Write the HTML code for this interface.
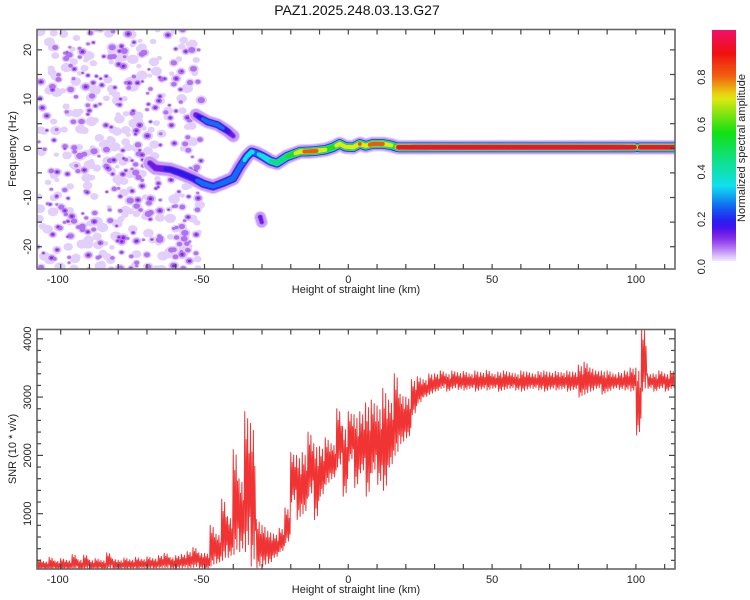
<!DOCTYPE html>
<html><head><meta charset="utf-8">
<style>
html,body{margin:0;padding:0;background:#fff;}
svg{display:block;font-family:"Liberation Sans",sans-serif;}
</style></head>
<body>
<svg id="chart" width="750" height="600" viewBox="0 0 750 600" xmlns="http://www.w3.org/2000/svg">
<defs>
<clipPath id="clipTop"><rect x="37" y="29.5" width="638" height="239.5"/></clipPath>
<clipPath id="clipBot"><rect x="37" y="329.5" width="638" height="239.5"/></clipPath>
<linearGradient id="cbGrad" x1="0" y1="1" x2="0" y2="0"></linearGradient>
</defs>
<text x="357" y="15" font-size="14" text-anchor="middle" fill="#111">PAZ1.2025.248.03.13.G27</text>
<g id="specMarks" clip-path="url(#clipTop)"></g>
<g id="snrMarks" clip-path="url(#clipBot)"></g>
<g id="axes"></g>
<rect x="712" y="30" width="24" height="231" fill="url(#cbGrad)"/>
<g id="cbAxis"></g>
<text x="0" y="0" font-size="11" text-anchor="middle" fill="#222" transform="translate(745,148) rotate(-90)">Normalized spectral amplitude</text>
<text x="356" y="293" font-size="11" text-anchor="middle" fill="#222">Height of straight line (km)</text>
<text x="356" y="593" font-size="11" text-anchor="middle" fill="#222">Height of straight line (km)</text>
<text x="0" y="0" font-size="11" text-anchor="middle" fill="#222" transform="translate(16,149) rotate(-90)">Frequency (Hz)</text>
<text x="0" y="0" font-size="11" text-anchor="middle" fill="#222" transform="translate(16,449) rotate(-90)">SNR (10 * v/v)</text>
</svg>
<script>
// ---- data ----
const xTickLabels = [-100, -50, 0, 50, 100];
const freqTickLabels = [-20, -10, 0, 10, 20];
const snrTickLabels = [1000, 2000, 3000, 4000];
const cbTickLabels = [0.0, 0.2, 0.4, 0.6, 0.8];
// main ridge of spectrogram
const trackKm  = [-69,-67,-62,-58.5,-54,-50.4,-47,-43.5,-40,-37.6,-35.3,-33.6,-31.9,-29.6,-27,-24.8,-21.4,-16.8,-12.2,-8,-5.3,-3,-1,1.7,4,6,8.6,12,15,16.5,17.5,30,60,90,99.5,100.5,101.5,113.6];
const trackHz  = [-3,-4,-4.3,-5,-6.1,-7.2,-7.8,-7,-6.1,-3.7,-1.7,-0.7,-1.0,-1.7,-2.6,-3,-1.7,-0.7,-0.6,-0.3,0.2,0.9,0.3,0.2,0.9,0.5,0.9,0.9,0.6,0.3,0.2,0.2,0.2,0.2,0.2,0.2,0.2,0.2];
const trackAmp = [0.12,0.15,0.18,0.2,0.2,0.3,0.25,0.3,0.32,0.3,0.35,0.35,0.3,0.4,0.45,0.5,0.55,0.78,0.85,0.7,0.65,0.75,0.7,0.75,0.8,0.75,0.85,0.8,0.7,0.6,0.95,0.97,0.97,0.97,0.95,0.35,0.95,0.95];
// upper branch
const branchKm  = [-53,-49,-45.5,-42,-40];
const branchHz  = [6.8,5.4,4.8,3.5,2.5];
const branchAmp = [0.15,0.3,0.3,0.2,0.12];
// isolated blob
const isoKm  = [-30.6,-30.1];
const isoHz  = [-14.0,-15.0];
const isoAmp = [0.15,0.13];
// SNR: 2-km bins starting at -108 km, upper / lower envelope of noisy trace
const snrStartKm = -108;
const snrHi = [220,180,250,190,230,200,300,210,290,200,230,200,330,220,200,240,210,250,220,260,230,280,320,250,280,300,350,420,330,320,
800,650,1250,950,2100,1600,2750,2550,900,800,700,650,750,1100,2050,2000,2050,2400,2200,2150,2300,2200,2800,2500,2750,2700,2750,2900,2950,2850,
3150,2950,3400,3050,3000,3300,3350,3300,3400,3400,3450,3400,3450,3420,3440,3400,3450,3420,3460,3400,3430,3450,3420,3400,3450,3430,3400,3440,3450,3420,
3440,3420,3450,3430,
3550,3600,3500,3450,3450,3450,3400,3420,3450,3500,3500,4200,3400,3400,3450,3400,3450,3400];
const snrLo = [30,40,30,40,30,40,40,30,50,40,40,30,50,40,50,40,50,40,60,50,50,60,60,50,60,70,60,80,50,40,
100,150,200,250,300,350,350,100,60,100,150,250,350,500,1200,900,1000,1300,900,1300,1500,1600,1800,1300,1900,1450,1700,1300,1700,1500,
1400,1800,2000,2200,2300,2700,2900,3000,3050,3100,3150,3100,3150,3130,3120,3150,3100,3140,3120,3150,3100,3130,3150,3120,3100,3140,3150,3120,3100,3140,
3120,3140,3100,3130,
3000,3050,3100,3150,3050,3100,3150,3130,3120,3100,2350,3100,3150,3100,3150,3100,3150,3100];

// ---- scales ----
const NS = 'http://www.w3.org/2000/svg';
function xS(km){ return 348.3 + km*2.876; }
function fS(hz){ return 148.3 - hz*4.92; }
function yS(v){ return 513.7 - (v-1000)*0.0583; }
function cbS(a){ return 266.7 - a*237; }

const cmStops = [[0,'#ffffff'],[0.015,'#efe3fe'],[0.04,'#d2b2fa'],[0.08,'#a45cf0'],[0.12,'#7a1ee6'],[0.17,'#3010f0'],[0.24,'#1060f0'],[0.33,'#10e0f0'],[0.45,'#10e080'],[0.56,'#10e010'],[0.71,'#e8e810'],[0.8,'#f06010'],[0.9,'#f01010'],[1.0,'#f0106e']];
function hex(c){ return [parseInt(c.substr(1,2),16),parseInt(c.substr(3,2),16),parseInt(c.substr(5,2),16)]; }
function cmap(a){
  a = Math.max(0, Math.min(1, a));
  for (let i=1;i<cmStops.length;i++){
    if (a <= cmStops[i][0]){
      const [v0,c0] = cmStops[i-1], [v1,c1] = cmStops[i];
      const t = (a-v0)/(v1-v0), A=hex(c0), B=hex(c1);
      return 'rgb('+A.map((x,k)=>Math.round(x+(B[k]-x)*t)).join(',')+')';
    }
  }
  return cmStops[cmStops.length-1][1];
}
function mk(tag, attrs, parent){
  const e = document.createElementNS(NS, tag);
  for (const k in attrs) e.setAttribute(k, attrs[k]);
  parent.appendChild(e); return e;
}

// colorbar gradient
const grad = document.getElementById('cbGrad');
for (let i=0;i<=40;i++){
  const a = i/40;
  mk('stop', {offset: (a*100)+'%', 'stop-color': cmap(a*0.985+0.012)}, grad);
}

// ---- spectrogram ----
const spec = document.getElementById('specMarks');
// background noise texture (decorative, seeded)
let seed = 12345;
function rnd(){ seed = (seed*1664525 + 1013904223) >>> 0; return seed/4294967296; }
const noiseG = mk('g', {}, spec);


const blobs = [];
for (let i=0;i<560;i++){
  let km = -108 + rnd()*57; const hz = -25 + rnd()*50;
  if (km > -54 && rnd() < 0.5) km -= 6;
  blobs.push([km, hz, 0.025 + Math.pow(rnd(),1.4)*0.13, 2 + rnd()*3]);
}
const noiseLv = [0.02,0.065,0.11];
[0,1,2].forEach(level=>{
  blobs.forEach(b=>{
    const lv = noiseLv[level];
    if (b[2] < lv) return;
    const r = b[3]*(1 - 0.35*level);
    mk('ellipse', {cx: xS(b[0]), cy: fS(b[1]), rx: r*1.15, ry: r*0.95, fill: cmap(lv+0.005)}, noiseG);
  });
});

function densify(kmA, hzA, ampA, step){
  const pts = [];
  for (let i=0;i<kmA.length-1;i++){
    const n = Math.max(1, Math.ceil((kmA[i+1]-kmA[i])/step));
    for (let j=0;j<n;j++){
      const t=j/n;
      pts.push([kmA[i]+(kmA[i+1]-kmA[i])*t, hzA[i]+(hzA[i+1]-hzA[i])*t, ampA[i]+(ampA[i+1]-ampA[i])*t]);
    }
  }
  pts.push([kmA[kmA.length-1], hzA[hzA.length-1], ampA[ampA.length-1]]);
  return pts;
}
const levels = [0.015,0.04,0.08,0.12,0.17,0.24,0.33,0.45,0.56,0.7,0.8,0.88,0.94];
function drawRidge(pts, R, name){
  const g = mk('g', {}, spec);
  
  
  levels.forEach((L, li)=>{
    pts.forEach(p=>{
      if (p[2] < L) return;
      const r = li===0 ? R+2.2 : (li===1 ? R+1.2 : R*(1-0.62*L/p[2]));
      mk('circle', {cx: xS(p[0]).toFixed(2), cy: fS(p[1]).toFixed(2), r: r.toFixed(2), fill: cmap(L+0.01)}, g);
    });
  });
}
drawRidge(densify(trackKm, trackHz, trackAmp, 0.4), 5.2, 'main-ridge');
drawRidge(densify(branchKm, branchHz, branchAmp, 0.4), 4.5, 'upper-branch');
drawRidge(densify(isoKm, isoHz, isoAmp, 0.3), 4, 'isolated-blob');

// ---- SNR trace ----
const snrG = document.getElementById('snrMarks');
let d = '';
const frac = [[0,1],[0.25,0],[0.5,0.8],[0.75,0.15],[1,0.95],[1.25,0.05],[1.5,0.7],[1.75,0.25]];
for (let i=0;i<snrHi.length;i++){
  const k = snrStartKm + 2*i, h = snrHi[i], l = snrLo[i];
  frac.forEach((f,j)=>{
    const v = l + (h-l)*f[1];
    d += (i===0&&j===0?'M':'L') + xS(k+f[0]).toFixed(2)+','+yS(v).toFixed(2);
  });
}
const snrPath = mk('path', {d: d, fill:'none', stroke:'#f03434', 'stroke-width':'1', 'stroke-linejoin':'round'}, snrG);



// ---- axes ----
const ax = document.getElementById('axes');
function frame(y0, y1, name){
  const r = mk('rect', {x:37, y:y0, width:638, height:y1-y0, fill:'none', stroke:'#666', 'stroke-width':'1.6'}, ax);
  
  
}
frame(29.5, 269, 'top-plot-frame');
frame(329.5, 569, 'bottom-plot-frame');
function tick(x1,y1,x2,y2){ mk('line',{x1:x1,y1:y1,x2:x2,y2:y2,stroke:'#444','stroke-width':'1.2'},ax); }
[[29.5,269],[329.5,569]].forEach(([t,b])=>{
  for (let km=-100; km<=110; km+=10){
    const x = xS(km);
    tick(x,t,x,t+5); tick(x,b,x,b-5);
  }
});
for (let hz=-20; hz<=20; hz+=5){ const y=fS(hz); tick(37,y,42,y); tick(675,y,670,y); }
for (let v=200; v<=4100; v+=200){ const y=yS(v); const len = v%1000===0?6:4; tick(37,y,37+len,y); tick(675,y,675-len,y); }
[[283,'top'],[583,'bottom']].forEach(([ly,pfx])=>{
  xTickLabels.forEach(v=>{
    const t = mk('text',{x:xS(v)+(v<0?-3:0), y:ly, 'font-size':11, 'text-anchor':'middle', fill:'#222'}, ax);
    t.textContent = v;
    
    
  });
});
freqTickLabels.forEach(v=>{
  const t = mk('text',{x:0, y:0, 'font-size':11, 'text-anchor':'middle', fill:'#222', transform:'translate(31,'+fS(v)+') rotate(-90)'}, ax);
  t.textContent = v;
  
  
});
snrTickLabels.forEach(v=>{
  const t = mk('text',{x:0, y:0, 'font-size':11, 'text-anchor':'middle', fill:'#222', transform:'translate(31,'+yS(v)+') rotate(-90)'}, ax);
  t.textContent = v;
  
  
});
const cbA = document.getElementById('cbAxis');
cbTickLabels.forEach(v=>{
  const t = mk('text',{x:0, y:0, 'font-size':11, 'text-anchor':'middle', fill:'#222', transform:'translate(705,'+cbS(v)+') rotate(-90)'}, cbA);
  t.textContent = v.toFixed(1);
  
  
});
</script>
</body></html>
